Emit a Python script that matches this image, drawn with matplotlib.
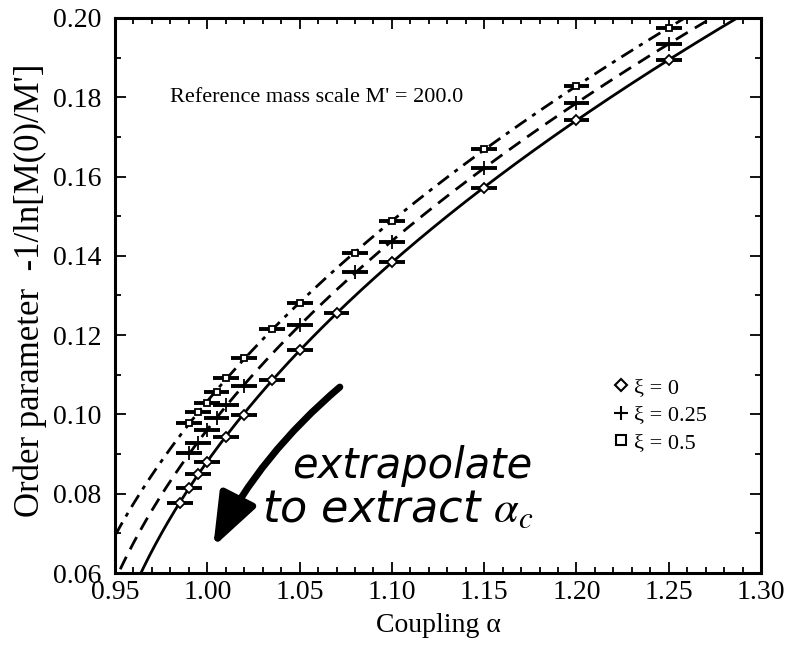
import matplotlib
matplotlib.use('Agg')
import matplotlib.pyplot as plt
import numpy as np
from matplotlib.lines import Line2D
from matplotlib.ticker import MultipleLocator, FormatStrFormatter

plt.rcParams['font.family'] = ['Liberation Serif', 'DejaVu Serif']
plt.rcParams['mathtext.fontset'] = 'stix'

# order parameter vs coupling for three values of xi
alpha_xi0 = [0.985, 0.99, 0.995, 1.00, 1.01, 1.02, 1.035, 1.05, 1.07, 1.10, 1.15, 1.20, 1.25]
order_xi0 = [0.0777, 0.0815, 0.0850, 0.0880, 0.0943, 0.0999, 0.1087, 0.1162, 0.1256, 0.1384, 0.1571, 0.1743, 0.1894]

alpha_xi25 = [0.99, 0.995, 1.00, 1.005, 1.01, 1.02, 1.05, 1.08, 1.10, 1.15, 1.20, 1.25]
order_xi25 = [0.0903, 0.0928, 0.0960, 0.0991, 0.1023, 0.1072, 0.1226, 0.1359, 0.1435, 0.1622, 0.1786, 0.1934]

alpha_xi50 = [0.99, 0.995, 1.00, 1.005, 1.01, 1.02, 1.035, 1.05, 1.08, 1.10, 1.15, 1.20, 1.25]
order_xi50 = [0.0978, 0.1006, 0.1029, 0.1056, 0.1092, 0.1142, 0.1215, 0.1281, 0.1407, 0.1488, 0.1670, 0.1828, 0.1975]

xi_labels = ['ξ = 0', 'ξ = 0.25', 'ξ = 0.5']
alpha_err = 0.007


def fit_power(a, v):
    # v = A (alpha - alpha_c)^p, scan alpha_c and fit the rest in log space
    a = np.asarray(a)
    v = np.asarray(v)
    best = None
    for ac in np.linspace(0.6, a.min() - 0.002, 3000):
        p, c = np.polyfit(np.log(a - ac), np.log(v), 1)
        r = np.sum((np.exp(c) * (a - ac) ** p - v) ** 2)
        if best is None or r < best[0]:
            best = (r, ac, p, np.exp(c))
    return best[1:]


fig = plt.figure(figsize=(7.9, 6.51), dpi=100)
ax = fig.add_axes([0.1456, 0.1198, 0.8177, 0.8526])

series = [
    (alpha_xi0, order_xi0, 'D', 5, '-'),
    (alpha_xi25, order_xi25, '+', 10, (0, (5, 3))),
    (alpha_xi50, order_xi50, 's', 5, (0, (5, 2.5, 1.5, 2.5))),
]

for a, v, mk, ms, ls in series:
    ac, p, A = fit_power(a, v)
    xs = np.linspace(ac + 1e-5, 1.32, 600)
    ax.plot(xs, A * (xs - ac) ** p, color='black', lw=2.0, linestyle=ls)
    ax.errorbar(a, v, xerr=alpha_err, fmt='none', ecolor='black', elinewidth=2.8, capsize=0)
    ax.plot(a, v, linestyle='none', marker=mk, markersize=ms, markerfacecolor='white',
            markeredgecolor='black', markeredgewidth=1.3)

ax.set_xlim(0.95, 1.30)
ax.set_ylim(0.06, 0.20)
ax.xaxis.set_major_locator(MultipleLocator(0.05))
ax.xaxis.set_minor_locator(MultipleLocator(0.01))
ax.yaxis.set_major_locator(MultipleLocator(0.02))
ax.yaxis.set_minor_locator(MultipleLocator(0.01))
ax.xaxis.set_major_formatter(FormatStrFormatter('%.2f'))
ax.yaxis.set_major_formatter(FormatStrFormatter('%.2f'))
ax.tick_params(which='both', direction='in', top=True, right=True, labelsize=20, width=1.3)
ax.tick_params(which='major', length=8)
ax.tick_params(which='minor', length=4)
ax.tick_params(axis='x', which='major', pad=5)
ax.tick_params(axis='y', which='major', pad=10)
for s in ax.spines.values():
    s.set_linewidth(2.2)

ax.set_xlabel('Coupling α', fontsize=20, labelpad=6)
ax.set_ylabel("Order parameter  -1/ln[M(0)/M']", fontsize=25)
ax.yaxis.set_label_coords(-0.105, 0.51)

ax.text(0.085, 0.856, "Reference mass scale M' = 200.0", transform=ax.transAxes,
        fontsize=16, va='center')

handles = [
    Line2D([], [], linestyle='none', marker='D', markersize=6, markerfacecolor='white',
           markeredgecolor='black', markeredgewidth=1.5),
    Line2D([], [], linestyle='none', marker='+', markersize=10, markeredgecolor='black',
           markeredgewidth=1.5),
    Line2D([], [], linestyle='none', marker='s', markersize=7, markerfacecolor='white',
           markeredgecolor='black', markeredgewidth=1.5),
]
ax.legend(handles, xi_labels, loc='upper left', bbox_to_anchor=(0.755, 0.372),
          frameon=False, fontsize=16, handlelength=0.6, handletextpad=0.3,
          labelspacing=0.3, borderpad=0)

# hand-written note with a big arrow pointing towards alpha_c
ax.annotate('', xy=(0.152, 0.047), xytext=(0.348, 0.335), xycoords='axes fraction',
            arrowprops=dict(arrowstyle='-|>,head_length=1.6,head_width=0.6', lw=5,
                            color='black', connectionstyle='arc3,rad=0.1',
                            shrinkA=0, shrinkB=0, mutation_scale=20))
ax.text(0.274, 0.171, 'extrapolate', transform=ax.transAxes, fontsize=30,
        family=['DejaVu Sans'], style='italic', va='baseline')
ax.text(0.228, 0.092, r'to extract $\alpha_c$', transform=ax.transAxes, fontsize=32,
        family=['DejaVu Sans'], style='italic', va='baseline')

fig.savefig('out.png', dpi=100)
